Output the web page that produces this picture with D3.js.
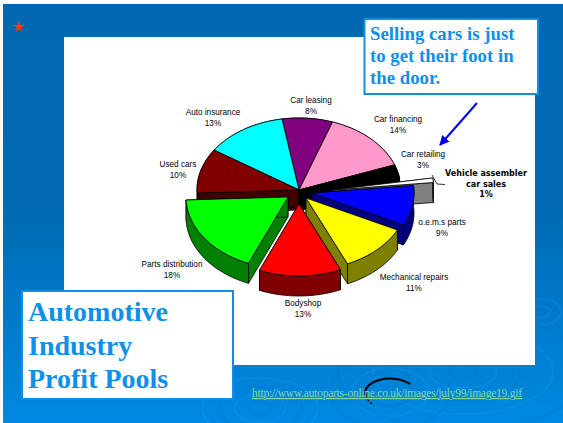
<!DOCTYPE html>
<html>
<head>
<meta charset="utf-8">
<style>
  html, body { margin: 0; padding: 0; background: #fff; }
  svg { display: block; }
</style>
<script src="https://cdn.jsdelivr.net/npm/d3@7/dist/d3.min.js"></script>
</head>
<body>
<svg id="slide" width="563" height="423"></svg>
<script>
// Profit share by segment, clockwise from the back of the pie
const categories = ["Car leasing", "Car financing", "Car retailing", "Vehicle assembler car sales",
  "o.e.m.s parts", "Mechanical repairs", "Bodyshop", "Parts distribution", "Used cars", "Auto insurance"];
const shares = [8, 14, 3, 1, 9, 11, 13, 18, 10, 13];
const topColors = ["#800080", "#ff99cc", "#000000", "#ffffff", "#0000ff", "#ffff00", "#ff0000", "#00ff00", "#800000", "#00ffff"];
const sideColors = ["#400040", "#cc6699", "#000000", "#808080", "#000080", "#808000", "#800000", "#008000", "#400000", "#008080"];
// Displacement of each wedge away from the pie centre
const explodeX = [0, 0, 0, 33, 13, 7, 0, -11, 0, 0];
const explodeY = [0, 0, 0, 0, 3, 8, 14, 7, 0, 0];
const paintOrder = [0, 9, 1, 8, 2, 3, 4, 5, 7, 6];

const labelX = [311, 398, 423, null, 442, 414, 303, 172, 178, 213];
const labelY = [103, 122, 157, null, 225, 280, 306, 267, 167, 115];

const titleLines = ["Automotive", "Industry", "Profit Pools"];
const calloutLines = ["Selling cars is just", "to get their foot in", "the door."];
const assemblerLines = ["Vehicle assembler", "car sales", "1%"];
const sourceUrl = "http://www.autoparts-online.co.uk/images/july99/image19.gif";

const BLUE = "#0f90e8";
const svg = d3.select("#slide");
const defs = svg.append("defs");

// Slide background
const grad = defs.append("linearGradient").attr("id", "bg")
  .attr("x1", 0).attr("y1", 0).attr("x2", 0).attr("y2", 1);
[[0, "#0068b0"], [0.5, "#006bb4"], [1, "#0089e2"]].forEach(([o, c]) =>
  grad.append("stop").attr("offset", o).attr("stop-color", c));
svg.append("rect").attr("x", 3).attr("y", 4).attr("width", 560).attr("height", 419).attr("fill", "url(#bg)");

// Water ripples on the background
const ripples = [
  { cx: 540, cy: 312, rx: [5, 10, 15, 21], ry: [3, 6, 9, 13] },
  { cx: 463, cy: 372, rx: [14, 34, 58, 90, 125], ry: [8, 16, 28, 42, 58] },
  { cx: 260, cy: 408, rx: [12, 26, 42, 58], ry: [7, 14, 22, 30] },
  { cx: 390, cy: 392, rx: [22, 38, 60], ry: [14, 24, 36] }
];
ripples.forEach(r => r.rx.forEach((rx, i) => {
  svg.append("ellipse").attr("cx", r.cx).attr("cy", r.cy).attr("rx", rx).attr("ry", r.ry[i])
    .attr("fill", "none").attr("stroke", i % 2 ? "#1f98ec" : "#0070c4")
    .attr("stroke-width", 2.5).attr("stroke-opacity", 0.22);
}));

// Bullet
svg.append("path").attr("d", d3.symbol(d3.symbolStar, 42)())
  .attr("transform", "translate(19,27)").attr("fill", "#ff3a10");

// Chart panel
svg.append("rect").attr("x", 64).attr("y", 37).attr("width", 471).attr("height", 328).attr("fill", "#fff");

// Exploded pie drawn as a tilted, extruded disc
const cx = 299, cy = 190, rx = 102, ry = 72, depth = 20;
const start = -9.6 * Math.PI / 180;
const arcs = d3.pie().sort(null).startAngle(start).endAngle(start + 2 * Math.PI)(shares);
const px = d3.scaleLinear().domain([-1, 1]).range([cx - rx, cx + rx]);
const py = d3.scaleLinear().domain([-1, 1]).range([cy - ry, cy + ry]);
const line = d3.line();
const pie = svg.append("g").attr("stroke", "#000").attr("stroke-width", 0.8).attr("stroke-linejoin", "round");

paintOrder.forEach(i => {
  const a = arcs[i];
  const dx = explodeX[i], dy = explodeY[i];
  const steps = Math.max(3, Math.ceil((a.endAngle - a.startAngle) / 0.03));
  const rim = d3.range(steps + 1).map(k => {
    const t = a.startAngle + (a.endAngle - a.startAngle) * k / steps;
    return [px(Math.sin(t)) + dx, py(-Math.cos(t)) + dy];
  });
  const apex = [px(0) + dx, py(0) + dy];
  const drop = p => [p[0], p[1] + depth];
  const first = rim[0], last = rim[rim.length - 1];
  const g = pie.append("g");
  const side = pts => g.append("path").attr("d", line(pts) + "Z").attr("fill", sideColors[i]);
  side([apex, first, drop(first), drop(apex)]);
  side([apex, last, drop(last), drop(apex)]);
  side(rim.concat(rim.map(drop).reverse()));
  g.append("path").attr("d", line([apex].concat(rim)) + "Z").attr("fill", topColors[i]);
});

// Leader line from the thin grey wedge to its label
svg.append("path").attr("d", line([[432, 175], [437, 184], [445, 184.5]]))
  .attr("fill", "none").attr("stroke", "#000").attr("stroke-width", 0.8);

// Wedge labels
const labels = svg.append("g").attr("font-family", "'Liberation Sans', Arial, sans-serif")
  .attr("font-size", 8.2).attr("fill", "#000").attr("text-anchor", "middle");
categories.forEach((name, i) => {
  if (labelX[i] === null) return;
  labels.append("text").attr("x", labelX[i]).attr("y", labelY[i]).text(name);
  labels.append("text").attr("x", labelX[i]).attr("y", labelY[i] + 11).text(shares[i] + "%");
});
const boldLabel = svg.append("g").attr("font-family", "'DejaVu Sans', sans-serif").attr("font-weight", "bold")
  .attr("font-size", 8).attr("fill", "#000").attr("text-anchor", "middle");
assemblerLines.forEach((t, i) => boldLabel.append("text").attr("x", 486).attr("y", 176 + i * 10.5).text(t));

// Arrow pointing at the retailing wedge
defs.append("marker").attr("id", "head").attr("viewBox", "0 0 10 10").attr("refX", 9).attr("refY", 5)
  .attr("markerWidth", 10).attr("markerHeight", 10).attr("markerUnits", "userSpaceOnUse").attr("orient", "auto")
  .append("path").attr("d", "M0,0L10,5L0,10Z").attr("fill", "#0000f0");
svg.append("path").attr("d", line([[477, 103], [440, 145]]))
  .attr("stroke", "#0000f0").attr("stroke-width", 2).attr("fill", "none").attr("marker-end", "url(#head)");

// Text boxes
function textBox(x, y, w, h, lines, tx, baselines, size) {
  svg.append("rect").attr("x", x).attr("y", y).attr("width", w).attr("height", h)
    .attr("fill", "#fff").attr("stroke", BLUE).attr("stroke-width", 2);
  lines.forEach((t, i) => svg.append("text").attr("x", tx).attr("y", baselines[i])
    .attr("font-family", "'Liberation Serif', 'Times New Roman', serif").attr("font-weight", "bold")
    .attr("font-size", size).attr("fill", BLUE).text(t));
}
textBox(364.5, 19, 173.5, 75, calloutLines, 370, [40, 62, 84], 18.8);
textBox(22, 291, 211, 108, titleLines, 28, [321, 355, 388], 28);

// Source link with the pointer ring behind it
svg.append("path").attr("d", "M366,396A25,14 0 0 1 410,384")
  .attr("fill", "none").attr("stroke", "#000").attr("stroke-width", 2);
svg.append("path").attr("d", "M366,396A25,14 0 0 0 374,405")
  .attr("fill", "none").attr("stroke", "#000").attr("stroke-width", 1.2).attr("stroke-dasharray", "2 2");
svg.append("text").attr("x", 252).attr("y", 397)
  .attr("font-family", "'Liberation Serif', 'Times New Roman', serif").attr("font-size", 11.5)
  .attr("fill", "#7fdc9c").attr("text-decoration", "underline")
  .attr("textLength", 270).attr("lengthAdjust", "spacing").text(sourceUrl);
</script>
</body>
</html>
